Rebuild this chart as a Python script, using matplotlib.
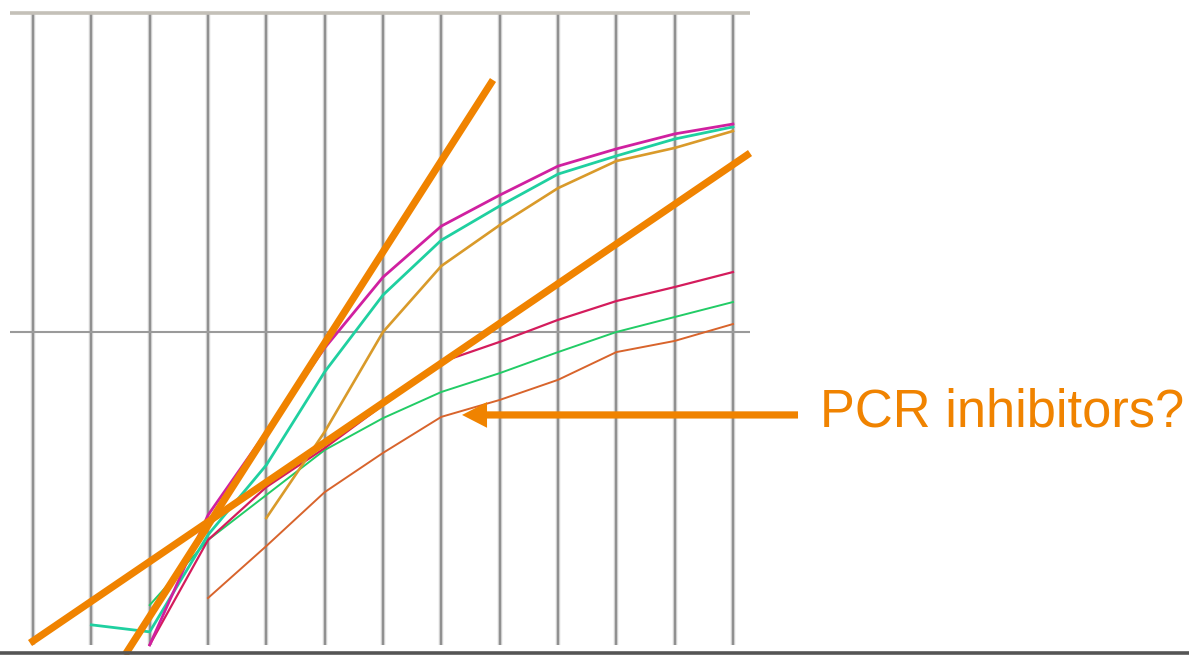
import matplotlib
matplotlib.use("Agg")
import matplotlib.pyplot as plt

# ---- data: log10 fluorescence (relative) per PCR cycle ----
cycles_all = list(range(0, 13))

magenta_cycles = [2, 3, 4, 5, 6, 7, 8, 9, 10, 11, 12]
magenta_vals = [0.019, 0.426, 0.687, 0.950, 1.172, 1.332, 1.429, 1.520, 1.574, 1.621, 1.652]

teal_cycles = [1, 2, 3, 4, 5, 6, 7, 8, 9, 10, 11, 12]
teal_vals = [0.082, 0.060, 0.364, 0.583, 0.875, 1.116, 1.288, 1.395, 1.495, 1.552, 1.605, 1.643]

gold_cycles = [4, 5, 6, 7, 8, 9, 10, 11, 12]
gold_vals = [0.417, 0.687, 1.000, 1.207, 1.335, 1.451, 1.536, 1.577, 1.630]

crimson_cycles = [2, 3, 4, 5, 6, 7, 8, 9, 10, 11, 12]
crimson_vals = [0.019, 0.348, 0.514, 0.636, 0.771, 0.906, 0.969, 1.038, 1.097, 1.141, 1.188]

green_cycles = [2, 3, 4, 5, 6, 7, 8, 9, 10, 11, 12]
green_vals = [0.144, 0.348, 0.489, 0.630, 0.730, 0.812, 0.871, 0.937, 1.000, 1.047, 1.094]

orangered_cycles = [3, 4, 5, 6, 7, 8, 9, 10, 11, 12]
orangered_vals = [0.166, 0.329, 0.498, 0.621, 0.734, 0.787, 0.850, 0.937, 0.972, 1.025]

# tangent (slope) lines drawn over the curves
steep_line_x = [1.577, 7.886]
steep_line_y = [-0.0125, 1.790]
shallow_line_x = [-0.051, 12.292]
shallow_line_y = [0.025, 1.561]

annotation_text = "PCR inhibitors?"
arrow_tip = (7.355, 0.740)
arrow_tail = (13.115, 0.740)
text_pos = (13.49, 0.749)

ORANGE = "#f08300"

fig = plt.figure(figsize=(11.89, 6.55), dpi=100)
ax = fig.add_axes([0, 0, 1, 1])
ax.set_xlim(-0.566, 19.818)
ax.set_ylim(-0.01254, 2.0408)
ax.axis("off")

# vertical grid lines
for c in cycles_all:
    ax.plot([c, c], [0.0188, 1.997], color="#d2d2d2", lw=3.2, solid_capstyle="butt", zorder=1)
    ax.plot([c, c], [0.0188, 1.997], color="#909090", lw=1.5, solid_capstyle="butt", zorder=1.1)

# horizontal lines
ax.plot([-0.394, 12.29], [2.0, 2.0], color="#c4c0b8", lw=2.6, solid_capstyle="butt", zorder=1.2)
ax.plot([-0.394, 12.29], [1.0, 1.0], color="#9a9a9a", lw=1.5, solid_capstyle="butt", zorder=1.2)
ax.axhline(-0.0078, color="#555555", lw=2.6, zorder=5)

# amplification curves
ax.plot(orangered_cycles, orangered_vals, color="#d8642c", lw=1.4, zorder=2)
ax.plot(green_cycles, green_vals, color="#22cc66", lw=1.4, zorder=2)
ax.plot(crimson_cycles, crimson_vals, color="#d41c5c", lw=1.6, zorder=2)
ax.plot(gold_cycles, gold_vals, color="#d99a2a", lw=1.9, zorder=2)
ax.plot(teal_cycles, teal_vals, color="#1fd0a0", lw=2.0, zorder=2.1)
ax.plot(magenta_cycles, magenta_vals, color="#d020a0", lw=2.0, zorder=2.2)

# tangent lines
ax.plot(steep_line_x, steep_line_y, color=ORANGE, lw=5.2, solid_capstyle="butt", zorder=3)
ax.plot(shallow_line_x, shallow_line_y, color=ORANGE, lw=5.2, solid_capstyle="butt", zorder=3)

# arrow + label
ax.annotate("", xy=arrow_tip, xytext=arrow_tail,
            arrowprops=dict(arrowstyle="simple,head_length=1.8,head_width=1.85,tail_width=0.52",
                            lw=0, color=ORANGE, shrinkA=0, shrinkB=0,
                            mutation_scale=10), zorder=4)
ax.text(text_pos[0], text_pos[1], annotation_text, color=ORANGE,
        fontsize=37.8, family=["Liberation Sans", "DejaVu Sans"],
        ha="left", va="center", zorder=4)

fig.savefig("out.png", dpi=100)
